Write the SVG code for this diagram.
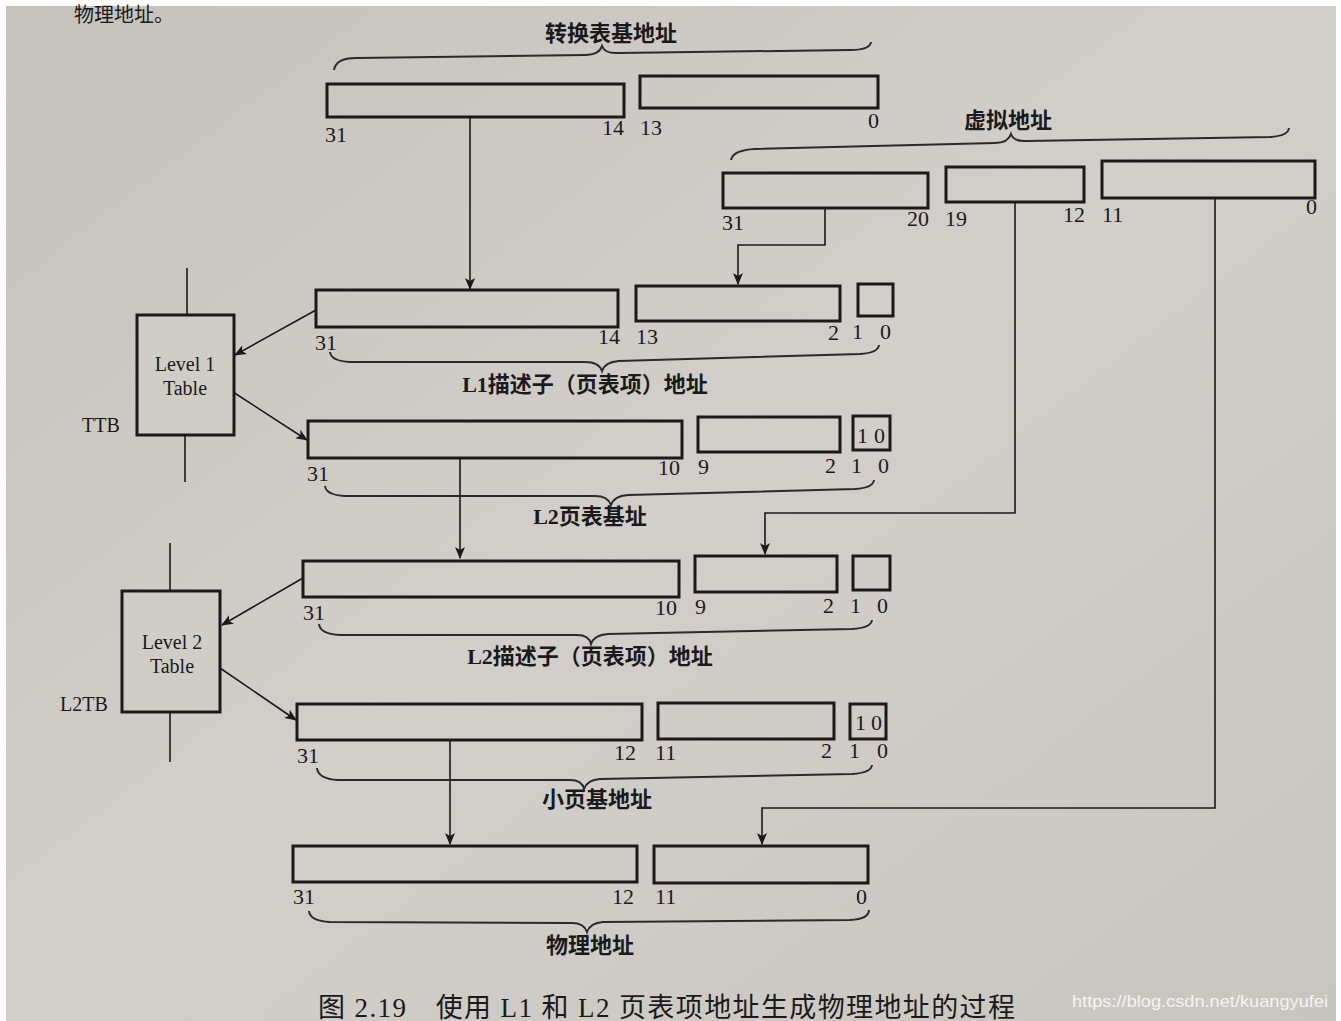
<svg xmlns="http://www.w3.org/2000/svg" width="1341" height="1021" viewBox="0 0 1341 1021">
<defs>
<style>
.bg{fill:#cbc8c2}
.box{fill:none;stroke:#1a1a1a;stroke-width:3}
.tbl{fill:#d0cdc7;stroke:#1a1a1a;stroke-width:3}
.ln{fill:none;stroke:#1a1a1a;stroke-width:1.6}
.br{fill:none;stroke:#2a2a2a;stroke-width:2}
.num{font-family:"Liberation Serif",serif;font-size:22px;fill:#1a1a1a}
.lvl{font-family:"Liberation Serif",serif;font-size:20px;fill:#1a1a1a;text-anchor:middle}
.cn{font-family:"Liberation Serif","Noto Sans CJK SC",sans-serif;font-size:22px;font-weight:bold;fill:#1a1a1a;text-anchor:middle}
.cap{font-family:"Liberation Serif","Noto Sans CJK SC",serif;font-size:27px;fill:#1a1a1a}
.wm{font-family:"Liberation Sans",sans-serif;font-size:17px;fill:#f4f4f4}
</style>
<linearGradient id="g" x1="0" y1="0" x2="1" y2="1">
<stop offset="0" stop-color="#c6c3bd"/>
<stop offset="0.5" stop-color="#d2cfca"/>
<stop offset="1" stop-color="#c9c6c0"/>
</linearGradient>
<marker id="ah" markerWidth="12" markerHeight="10" refX="11" refY="5" orient="auto" markerUnits="userSpaceOnUse">
<path d="M0,0 L12,5 L0,10 L3,5 z" fill="#1a1a1a"/>
</marker>
</defs>
<rect x="0" y="0" width="1341" height="1021" fill="#ffffff"/>
<rect x="6" y="6" width="1330" height="1015" fill="url(#g)"/>
<text class="cap" x="74" y="22" style="font-size:20px">物理地址。</text>

<g id="connectors">
<line class="ln" x1="470" y1="117" x2="470" y2="289" marker-end="url(#ah)"/>
<polyline class="ln" points="825,208 825,245 738,245 738,284" marker-end="url(#ah)"/>
<polyline class="ln" points="1015,202 1015,513 765,513 765,554" marker-end="url(#ah)"/>
<polyline class="ln" points="1215,198 1215,808 762,808 762,844" marker-end="url(#ah)"/>
<line class="ln" x1="316" y1="310" x2="235" y2="355" marker-end="url(#ah)"/>
<line class="ln" x1="233" y1="392" x2="307" y2="440" marker-end="url(#ah)"/>
<line class="ln" x1="460" y1="458" x2="460" y2="558" marker-end="url(#ah)"/>
<line class="ln" x1="303" y1="578" x2="222" y2="625" marker-end="url(#ah)"/>
<line class="ln" x1="220" y1="668" x2="296" y2="720" marker-end="url(#ah)"/>
<line class="ln" x1="450" y1="740" x2="450" y2="844" marker-end="url(#ah)"/>
<line class="ln" x1="187" y1="268" x2="187" y2="315"/>
<line class="ln" x1="185" y1="435" x2="185" y2="482"/>
<line class="ln" x1="170" y1="543" x2="170" y2="590"/>
<line class="ln" x1="170" y1="712" x2="170" y2="762"/>
</g>

<g id="ttb-base">
<text class="cn" x="611" y="41">转换表基地址</text>
<path class="br" d="M334,70 Q336,58 356,58 L585,55 Q599,55 602,46 Q605,54 619,53 L850,50 Q870,50 871,42"/>
<rect class="box" x="327" y="84" width="297" height="33"/>
<rect class="box" x="640" y="76" width="238" height="32"/>
<text class="num" x="325" y="142">31</text>
<text class="num" x="602" y="135">14</text>
<text class="num" x="640" y="135">13</text>
<text class="num" x="868" y="128">0</text>
</g>

<g id="virtual-address">
<text class="cn" x="1008" y="128">虚拟地址</text>
<path class="br" d="M731,160 Q733,150 755,149 L995,143 Q1008,143 1011,134 Q1014,142 1027,141 L1270,137 Q1288,136 1289,128"/>
<rect class="box" x="723" y="173" width="205" height="35"/>
<rect class="box" x="946" y="167" width="138" height="35"/>
<rect class="box" x="1102" y="161" width="213" height="37"/>
<text class="num" x="722" y="230">31</text>
<text class="num" x="907" y="226">20</text>
<text class="num" x="945" y="226">19</text>
<text class="num" x="1063" y="222">12</text>
<text class="num" x="1102" y="222">11</text>
<text class="num" x="1306" y="214">0</text>
</g>

<g id="level1-table">
<rect class="tbl" x="137" y="315" width="97" height="120"/>
<text class="lvl" x="185" y="371">Level 1</text>
<text class="lvl" x="185" y="395">Table</text>
<text class="num" x="82" y="432" style="font-size:20px">TTB</text>
</g>

<g id="l1-descriptor">
<rect class="box" x="316" y="290" width="302" height="37"/>
<rect class="box" x="636" y="286" width="204" height="35"/>
<rect class="box" x="858" y="284" width="35" height="32"/>
<text class="num" x="315" y="350">31</text>
<text class="num" x="598" y="344">14</text>
<text class="num" x="636" y="344">13</text>
<text class="num" x="828" y="340">2</text>
<text class="num" x="852" y="339">1</text>
<text class="num" x="880" y="339">0</text>
<path class="br" d="M330,352 Q331,361 350,362 L585,362 Q599,362 602,371 Q605,362 619,361 L860,354 Q878,353 879,345"/>
<text class="cn" x="585" y="392">L1描述子（页表项）地址</text>
</g>

<g id="l2-table-base">
<rect class="box" x="308" y="421" width="374" height="37"/>
<rect class="box" x="698" y="417" width="142" height="35"/>
<rect class="box" x="853" y="416" width="37" height="34"/>
<text class="num" x="857" y="443">1</text>
<text class="num" x="874" y="443">0</text>
<text class="num" x="307" y="481">31</text>
<text class="num" x="658" y="475">10</text>
<text class="num" x="698" y="474">9</text>
<text class="num" x="825" y="473">2</text>
<text class="num" x="851" y="473">1</text>
<text class="num" x="878" y="473">0</text>
<path class="br" d="M325,486 Q326,495 345,496 L595,496 Q608,496 611,505 Q614,496 628,495 L855,489 Q873,488 874,480"/>
<text class="cn" x="590" y="524">L2页表基址</text>
</g>

<g id="level2-table">
<rect class="tbl" x="122" y="591" width="98" height="121"/>
<text class="lvl" x="172" y="649">Level 2</text>
<text class="lvl" x="172" y="673">Table</text>
<text class="num" x="60" y="711" style="font-size:20px">L2TB</text>
</g>

<g id="l2-descriptor">
<rect class="box" x="303" y="561" width="376" height="36"/>
<rect class="box" x="695" y="556" width="142" height="36"/>
<rect class="box" x="853" y="556" width="37" height="34"/>
<text class="num" x="303" y="620">31</text>
<text class="num" x="655" y="615">10</text>
<text class="num" x="695" y="614">9</text>
<text class="num" x="823" y="613">2</text>
<text class="num" x="850" y="613">1</text>
<text class="num" x="877" y="613">0</text>
<path class="br" d="M319,624 Q320,634 340,635 L577,635 Q589,635 591,644 Q594,635 608,634 L852,629 Q871,628 872,620"/>
<text class="cn" x="590" y="664">L2描述子（页表项）地址</text>
</g>

<g id="small-page-base">
<rect class="box" x="297" y="704" width="345" height="36"/>
<rect class="box" x="658" y="703" width="176" height="36"/>
<rect class="box" x="850" y="704" width="36" height="35"/>
<text class="num" x="855" y="730">1</text>
<text class="num" x="871" y="730">0</text>
<text class="num" x="297" y="763">31</text>
<text class="num" x="614" y="760">12</text>
<text class="num" x="655" y="760">11</text>
<text class="num" x="821" y="758">2</text>
<text class="num" x="849" y="758">1</text>
<text class="num" x="877" y="758">0</text>
<path class="br" d="M317,768 Q318,779 338,780 L570,780 Q582,780 584,789 Q587,780 600,779 L852,774 Q871,773 872,765"/>
<text class="cn" x="597" y="807">小页基地址</text>
</g>

<g id="physical-address">
<rect class="box" x="293" y="846" width="344" height="36"/>
<rect class="box" x="654" y="846" width="214" height="37"/>
<text class="num" x="293" y="904">31</text>
<text class="num" x="612" y="904">12</text>
<text class="num" x="655" y="904">11</text>
<text class="num" x="856" y="904">0</text>
<path class="br" d="M309,911 Q310,921 330,922 L572,923 Q584,923 587,932 Q590,923 603,922 L850,920 Q869,919 869,910"/>
<text class="cn" x="590" y="953">物理地址</text>
</g>

<text class="cap" x="318" y="1017" textLength="697" lengthAdjust="spacing">图 2.19　使用 L1 和 L2 页表项地址生成物理地址的过程</text>
<text class="wm" x="1072" y="1007" textLength="256" lengthAdjust="spacingAndGlyphs">https://blog.csdn.net/kuangyufei</text>
</svg>
